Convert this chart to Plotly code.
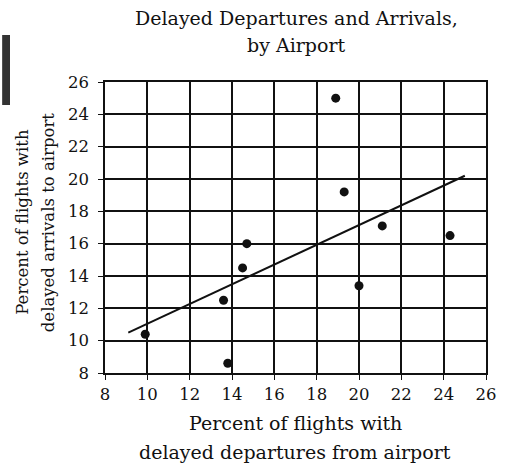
import plotly.graph_objects as go

# Airport delay percentages
departures = [9.9, 13.6, 13.8, 14.5, 14.7, 18.9, 19.3, 20.0, 21.1, 24.3]
arrivals = [10.4, 12.5, 8.6, 14.5, 16.0, 25.0, 19.2, 13.4, 17.1, 16.5]

# Line of best fit endpoints
fit_x = [9.1, 25.0]
fit_y = [10.5, 20.2]

tick_vals = [8, 10, 12, 14, 16, 18, 20, 22, 24, 26]

title_lines = ["Delayed Departures and Arrivals,", "by Airport"]
x_title_lines = ["Percent of flights with", "delayed departures from airport"]
y_title_lines = ["Percent of flights with", "delayed arrivals to airport"]

FONT = "DejaVu Serif"
INK = "#111111"

W, H = 509, 467
L, R, T, B = 105, 15, 82, 94
PW, PH = W - L - R, H - T - B


def px_x(px):
    return (px - L) / PW


def px_y(py):
    return (H - B - py) / PH


fig = go.Figure()
fig.add_trace(go.Scatter(
    x=fit_x, y=fit_y, mode="lines",
    line=dict(color=INK, width=2), hoverinfo="skip", showlegend=False,
))
fig.add_trace(go.Scatter(
    x=departures, y=arrivals, mode="markers",
    marker=dict(color=INK, size=9), showlegend=False,
))

axis_common = dict(
    range=[8, 26], tickvals=tick_vals, ticktext=[str(v) for v in tick_vals],
    showgrid=True, gridcolor=INK, gridwidth=1.6,
    showline=True, linecolor=INK, linewidth=1.6, mirror=True,
    ticks="outside", ticklen=5, tickcolor=INK, tickwidth=1.4,
    zeroline=False, tickfont=dict(family=FONT, size=16.5, color=INK),
)

fig.update_xaxes(**axis_common)
fig.update_yaxes(**axis_common, ticklabelstandoff=6)

annotations = []
for text, py in zip(title_lines, [18, 45]):
    annotations.append(dict(
        text=text, xref="paper", yref="paper", x=px_x(301), y=px_y(py),
        xanchor="center", yanchor="middle", showarrow=False,
        font=dict(family=FONT, size=19, color=INK),
    ))
for text, py in zip(x_title_lines, [423, 452]):
    annotations.append(dict(
        text=text, xref="paper", yref="paper", x=px_x(299), y=px_y(py),
        xanchor="center", yanchor="middle", showarrow=False,
        font=dict(family=FONT, size=19, color=INK),
    ))
for text, pxv in zip(y_title_lines, [20, 47]):
    annotations.append(dict(
        text=text, xref="paper", yref="paper", x=px_x(pxv), y=px_y(222),
        xanchor="center", yanchor="middle", showarrow=False, textangle=-90,
        font=dict(family=FONT, size=16.5, color=INK),
    ))

fig.update_layout(
    width=W, height=H,
    margin=dict(l=L, r=R, t=T, b=B),
    paper_bgcolor="white", plot_bgcolor="white",
    font=dict(family=FONT, color=INK),
    annotations=annotations,
    shapes=[dict(
        type="rect", xref="paper", yref="paper",
        x0=px_x(0), x1=px_x(8), y0=px_y(35), y1=px_y(105),
        fillcolor="#333333", line=dict(width=0), layer="above",
    )],
)

fig.write_html("out.html")
